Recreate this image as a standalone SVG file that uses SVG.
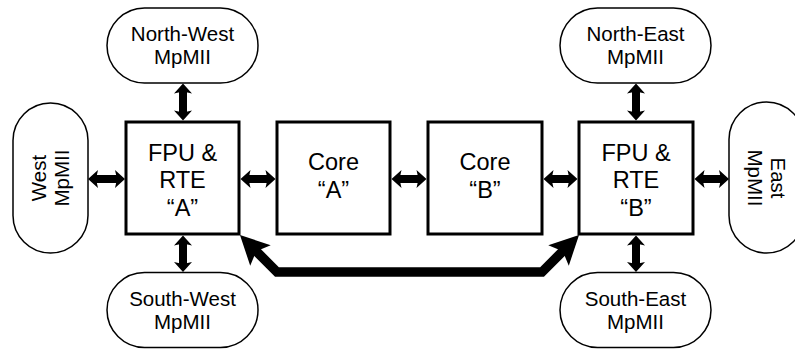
<svg xmlns="http://www.w3.org/2000/svg" width="795" height="350" viewBox="0 0 795 350">
<style>
.box{fill:#fff;stroke:#000;stroke-width:3}
.port{fill:#fff;stroke:#000;stroke-width:1.5}
.t{font-family:"Liberation Sans",Arial,sans-serif;fill:#000;text-anchor:middle}
.big{font-size:23.5px}
.sm{font-size:20.5px}
.conn{stroke:#000;stroke-width:8;fill:none}
.bus{stroke:#000;stroke-width:9.5;fill:none;stroke-linejoin:miter}
</style>
<defs>
<marker id="h" markerUnits="userSpaceOnUse" markerWidth="10" markerHeight="18" refX="3" refY="9" orient="auto-start-reverse" overflow="visible">
<path d="M0,0 L10,9 L0,18 L2,9 Z" fill="#000"/>
</marker>
<marker id="hb" markerUnits="userSpaceOnUse" markerWidth="29" markerHeight="29" refX="10" refY="14.5" orient="auto-start-reverse" overflow="visible">
<path d="M0,0 L29,14.5 L0,29 L6,14.5 Z" fill="#000"/>
</marker>
</defs>
<rect width="795" height="350" fill="#fff"/>
<g id="connectors">
<line class="conn" x1="95" y1="179" x2="118" y2="179" marker-start="url(#h)" marker-end="url(#h)"/>
<line class="conn" x1="247.5" y1="179" x2="268.5" y2="179" marker-start="url(#h)" marker-end="url(#h)"/>
<line class="conn" x1="398.5" y1="179" x2="419.5" y2="179" marker-start="url(#h)" marker-end="url(#h)"/>
<line class="conn" x1="550.5" y1="179" x2="570.5" y2="179" marker-start="url(#h)" marker-end="url(#h)"/>
<line class="conn" x1="701.5" y1="179" x2="722" y2="179" marker-start="url(#h)" marker-end="url(#h)"/>
<line class="conn" x1="183" y1="90.5" x2="183" y2="113.5" marker-start="url(#h)" marker-end="url(#h)"/>
<line class="conn" x1="183" y1="242.5" x2="183" y2="265" marker-start="url(#h)" marker-end="url(#h)"/>
<line class="conn" x1="636" y1="90.5" x2="636" y2="113.5" marker-start="url(#h)" marker-end="url(#h)"/>
<line class="conn" x1="636" y1="242.5" x2="636" y2="265" marker-start="url(#h)" marker-end="url(#h)"/>
<path class="bus" d="M253.4,248.4 L277,272 L542,272 L565.6,248.4" marker-start="url(#hb)" marker-end="url(#hb)"/>
</g>
<g id="fpu-a">
<rect class="box" x="126" y="122" width="113" height="112"/>
<text class="t big" x="182.5" y="160.5">FPU &amp;</text>
<text class="t big" x="182.5" y="188">RTE</text>
<text class="t big" x="182.5" y="215.5">“A”</text>
</g>
<g id="core-a">
<rect class="box" x="277" y="122" width="113" height="112"/>
<text class="t big" x="333.5" y="170">Core</text>
<text class="t big" x="333.5" y="197.5">“A”</text>
</g>
<g id="core-b">
<rect class="box" x="428" y="122" width="114" height="112"/>
<text class="t big" x="485" y="170">Core</text>
<text class="t big" x="485" y="197.5">“B”</text>
</g>
<g id="fpu-b">
<rect class="box" x="579" y="122" width="114" height="112"/>
<text class="t big" x="636" y="160.5">FPU &amp;</text>
<text class="t big" x="636" y="188">RTE</text>
<text class="t big" x="636" y="215.5">“B”</text>
</g>
<g id="nw-mpmii">
<rect class="port" x="107" y="8" width="151" height="75" rx="37.5"/>
<text class="t sm" x="182.5" y="41">North-West</text>
<text class="t sm" x="182.5" y="64.3">MpMII</text>
</g>
<g id="sw-mpmii">
<rect class="port" x="107" y="272.5" width="151" height="75" rx="37.5"/>
<text class="t sm" x="182.5" y="305.5">South-West</text>
<text class="t sm" x="182.5" y="328.8">MpMII</text>
</g>
<g id="ne-mpmii">
<rect class="port" x="560" y="8" width="151" height="75" rx="37.5"/>
<text class="t sm" x="635.5" y="41">North-East</text>
<text class="t sm" x="635.5" y="64.3">MpMII</text>
</g>
<g id="se-mpmii">
<rect class="port" x="560" y="272.5" width="151" height="75" rx="37.5"/>
<text class="t sm" x="635.5" y="305.5">South-East</text>
<text class="t sm" x="635.5" y="328.8">MpMII</text>
</g>
<g id="w-mpmii">
<rect class="port" x="13" y="103" width="75" height="150" rx="37.5"/>
<g transform="translate(50.5,178) rotate(-90)">
<text class="t sm" x="0" y="-4.5">West</text>
<text class="t sm" x="0" y="18.3">MpMII</text>
</g>
</g>
<g id="e-mpmii">
<rect class="port" x="729" y="102" width="75" height="151" rx="37.5"/>
<g transform="translate(766.5,178) rotate(90)">
<text class="t sm" x="0" y="-4.5">East</text>
<text class="t sm" x="0" y="18.3">MpMII</text>
</g>
</g>
</svg>
